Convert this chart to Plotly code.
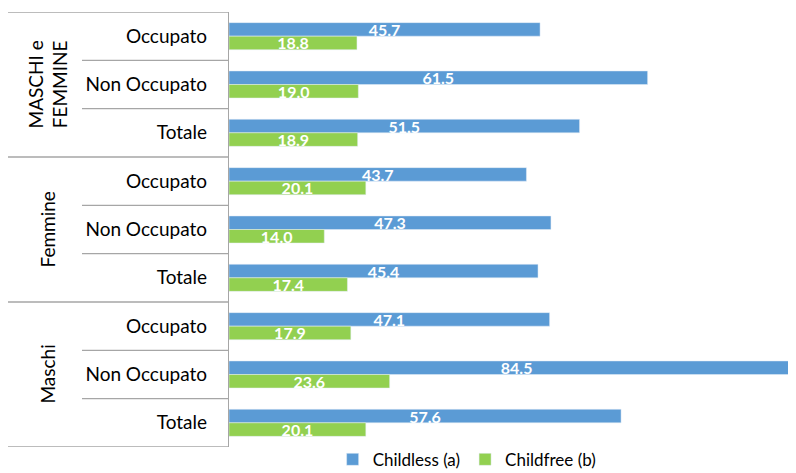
import plotly.graph_objects as go

groups = ["MASCHI e<br>FEMMINE", "Femmine", "Maschi"]
subcats = ["Occupato", "Non Occupato", "Totale"]
childless = [45.7, 61.5, 51.5, 43.7, 47.3, 45.4, 47.1, 84.5, 57.6]
childfree = [18.8, 19.0, 18.9, 20.1, 14.0, 17.4, 17.9, 23.6, 20.1]

n = len(groups) * len(subcats)
ypos = list(range(n))
ticktext = [s for g in groups for s in subcats]

FONT = "Lato"
GRID = "#a6a6a6"

fig = go.Figure()
fig.add_trace(go.Bar(
    y=ypos, x=childless, orientation="h", name="Childless (a)",
    marker_color="#5b9bd5",
    text=[f"{v:.1f}" for v in childless], textposition="inside",
    insidetextanchor="middle", constraintext="none",
    textfont=dict(color="white", size=16, family=FONT, weight="bold"),
))
fig.add_trace(go.Bar(
    y=ypos, x=childfree, orientation="h", name="Childfree (b)",
    marker_color="#92d050",
    text=[f"{v:.1f}" for v in childfree], textposition="inside",
    insidetextanchor="middle", constraintext="none",
    textfont=dict(color="white", size=16, family=FONT, weight="bold"),
))

# page body adds an 8px offset; figure is sized to the visible area
OFF = 8
W, H = 796 - OFF, 473 - OFF
ml, mr, mt, mb = 229 - OFF, 0, 12 - OFF, 473 - 447
pw = W - ml - mr

def px2paper(px):
    return (px - OFF - ml) / pw

shapes = []
for k in range(n + 1):
    yb = k - 0.5
    is_group = (k % len(subcats) == 0)
    shapes.append(dict(type="line", xref="paper", yref="y",
                       x0=px2paper(8 if is_group else 82), x1=0,
                       y0=yb, y1=yb, line=dict(color=GRID, width=1.3)))

annotations = []
for gi, g in enumerate(groups):
    yc = gi * len(subcats) + (len(subcats) - 1) / 2
    annotations.append(dict(text=g, xref="paper", yref="y", x=px2paper(47), y=yc,
                            showarrow=False, textangle=-90,
                            font=dict(family=FONT, size=19, color="black"),
                            xanchor="center", yanchor="middle"))

fig.update_layout(
    width=W, height=H,
    margin=dict(l=ml, r=mr, t=mt, b=mb, autoexpand=False),
    plot_bgcolor="white", paper_bgcolor="white",
    barmode="group", bargap=0.44, bargroupgap=0,
    font=dict(family=FONT, size=19, color="black"),
    xaxis=dict(range=[0, 83.3], showticklabels=False, showgrid=False,
               zeroline=False, showline=False, fixedrange=True, automargin=False),
    yaxis=dict(range=[n - 0.5, -0.5], tickvals=ypos, ticktext=ticktext,
               showgrid=False, zeroline=False, showline=True, linecolor=GRID,
               linewidth=1.3, ticks="", ticklabelstandoff=17, automargin=False,
               tickfont=dict(family=FONT, size=19, color="black")),
    shapes=shapes,
    annotations=annotations,
    legend=dict(orientation="h", x=0.42, xanchor="center", y=0.012, yanchor="top",
                font=dict(family=FONT, size=17, color="black"),
                itemwidth=30, traceorder="normal"),
    showlegend=True,
)

fig.write_html("out.html")
